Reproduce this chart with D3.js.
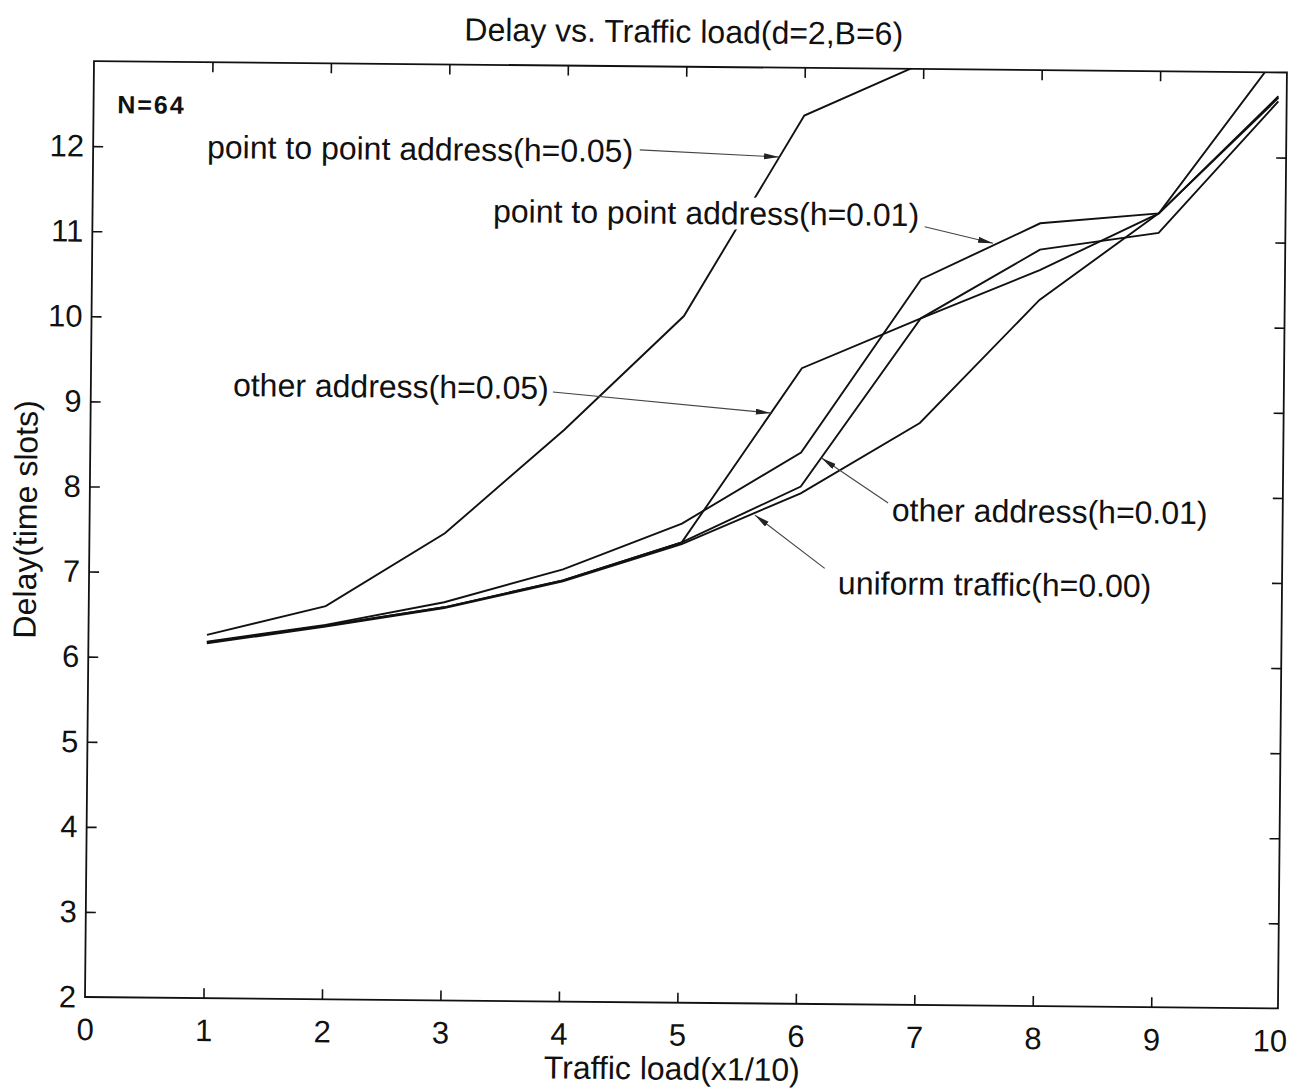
<!DOCTYPE html>
<html>
<head>
<meta charset="utf-8">
<script src="https://cdn.jsdelivr.net/npm/d3@7"></script>
<style>
  html, body { margin: 0; padding: 0; background: #fff; }
  svg { display: block; }
  text { font-family: "Liberation Sans", Arial, Helvetica, sans-serif; fill: #111; }
</style>
</head>
<body>
<svg id="chart" width="1300" height="1091"></svg>
<script>
// Traffic load (x1/10) at which each delay was measured
const loads = [1, 2, 3, 4, 5, 6, 7, 8, 9, 10];

// Delay in time slots for each traffic pattern
const ptp05   = [6.27, 6.62, 7.49, 8.72, 10.07, 12.44, 13.07];
const ptp01   = [6.19, 6.40, 6.68, 7.08, 7.63, 8.48, 10.53, 11.20, 11.33, 13.22];
const other05 = [6.18, 6.39, 6.62, 6.95, 7.41, 9.47, 10.07, 10.65, 11.33, 12.72];
const other01 = [6.18, 6.39, 6.62, 6.95, 7.41, 8.08, 10.07, 10.89, 11.10, 12.66];
const uniform = [6.17, 6.38, 6.61, 6.94, 7.39, 8.00, 8.84, 10.30, 11.33, 12.70];

const seriesList = [ptp05, ptp01, other05, other01, uniform];

// Axis ticks
const xTicks = [0, 1, 2, 3, 4, 5, 6, 7, 8, 9, 10];
const yTicks = [2, 3, 4, 5, 6, 7, 8, 9, 10, 11, 12];
const xMax = 10.07;
const yMin = 2, yMax = 13;

// Curve labels: text anchor and arrow (from -> to), in data units
const notes = [
  { text: "point to point address(h=0.05)", tx: 0.962, ty: 11.873, fx: 4.614, fy: 12.018, px: 5.79, py: 11.95 },
  { text: "point to point address(h=0.01)", tx: 3.381, ty: 11.153, fx: 7.025, fy: 11.147, px: 7.603, py: 10.96 },
  { text: "other address(h=0.05)",          tx: 1.200, ty: 9.079,  fx: 3.900, fy: 9.162,  px: 5.74,  py: 8.94 },
  { text: "other address(h=0.01)",          tx: 6.771, ty: 7.684,  fx: 6.739, fy: 7.895,  px: 6.173, py: 8.417 },
  { text: "uniform traffic(h=0.00)",        tx: 6.322, ty: 6.820,  fx: 6.209, fy: 7.121,  px: 5.615, py: 7.739 }
];

// ---- layout ----
const W = 1300, H = 1091;
const padLeft = 85, padTop = 61, pw = 1193, ph = 936;
const tilt = 0.55; // the printed page sits slightly skewed

const svg = d3.select("#chart");
svg.append("rect").attr("width", W).attr("height", H).attr("fill", "#fff");

const defs = svg.append("defs");
defs.append("clipPath").attr("id", "plotClip")
  .append("rect").attr("x", 0).attr("y", 0).attr("width", pw).attr("height", ph);
defs.append("marker")
  .attr("id", "arrowHead")
  .attr("markerUnits", "userSpaceOnUse")
  .attr("markerWidth", 16).attr("markerHeight", 8)
  .attr("refX", 15).attr("refY", 3)
  .attr("orient", "auto")
  .append("path").attr("d", "M0,0 L15,3 L0,6 Z").attr("fill", "#222");

const root = svg.append("g")
  .attr("transform", `rotate(${tilt}, ${padLeft}, ${padTop + ph})`);
const g = root.append("g").attr("transform", `translate(${padLeft},${padTop})`);

const x = d3.scaleLinear().domain([0, xMax]).range([0, pw]);
const y = d3.scaleLinear().domain([yMin, yMax]).range([ph, 0]);

const fontStack = '"Liberation Sans", Arial, Helvetica, sans-serif';

// ---- axes (ticks point inward on all four sides) ----
function styleAxis(sel, fs) {
  sel.select(".domain").remove();
  sel.attr("font-family", fontStack).attr("font-size", fs);
  sel.selectAll(".tick line").attr("stroke", "#111").attr("stroke-width", 1.6);
  sel.selectAll(".tick text").attr("fill", "#111");
}

const xBottom = g.append("g").attr("transform", `translate(0,${ph})`)
  .call(d3.axisBottom(x).tickValues(xTicks).tickFormat(d3.format("d"))
    .tickSizeInner(-10).tickSizeOuter(0).tickPadding(21));
styleAxis(xBottom, 31);

const xTop = g.append("g")
  .call(d3.axisTop(x).tickValues(xTicks).tickFormat("")
    .tickSizeInner(-10).tickSizeOuter(0));
styleAxis(xTop, 31);

const yLeft = g.append("g")
  .call(d3.axisLeft(y).tickValues(yTicks).tickFormat(d3.format("d"))
    .tickSizeInner(-10).tickSizeOuter(0).tickPadding(9));
styleAxis(yLeft, 31);

const yRight = g.append("g").attr("transform", `translate(${pw},0)`)
  .call(d3.axisRight(y).tickValues(yTicks).tickFormat("")
    .tickSizeInner(-10).tickSizeOuter(0));
styleAxis(yRight, 31);

// tick marks on the frame edges coincide with the border itself
[xBottom, xTop].forEach(a => a.selectAll(".tick").filter(d => d === 0 || d === 10)
  .select("line").remove());
[yLeft, yRight].forEach(a => a.selectAll(".tick").filter(d => d === yMin)
  .select("line").remove());

// frame
g.append("rect")
  .attr("x", 0).attr("y", 0).attr("width", pw).attr("height", ph)
  .attr("fill", "none").attr("stroke", "#111").attr("stroke-width", 1.8);

// ---- curves ----
const line = d3.line().x(d => x(d[0])).y(d => y(d[1]));
g.append("g").attr("clip-path", "url(#plotClip)")
  .selectAll("path.curve")
  .data(seriesList)
  .join("path")
  .attr("class", "curve")
  .attr("d", vals => line(vals.map((v, i) => [loads[i], v])))
  .attr("fill", "none")
  .attr("stroke", "#111")
  .attr("stroke-width", 1.9)
  .attr("stroke-linejoin", "miter");

// ---- curve labels with arrows (labels sit on an opaque box over the curves) ----
const noteG = g.append("g");
noteG.selectAll("line.arrow")
  .data(notes)
  .join("line")
  .attr("class", "arrow")
  .attr("x1", d => x(d.fx)).attr("y1", d => y(d.fy))
  .attr("x2", d => x(d.px)).attr("y2", d => y(d.py))
  .attr("stroke", "#444").attr("stroke-width", 1.1)
  .attr("marker-end", "url(#arrowHead)");

const noteBoxes = noteG.selectAll("rect.notebg").data(notes).join("rect")
  .attr("class", "notebg").attr("fill", "#fff");

const noteTexts = noteG.selectAll("text.note")
  .data(notes)
  .join("text")
  .attr("class", "note")
  .attr("x", d => x(d.tx)).attr("y", d => y(d.ty))
  .attr("font-size", 32)
  .text(d => d.text);

noteTexts.each(function (d, i) {
  const b = this.getBBox();
  d3.select(noteBoxes.nodes()[i])
    .attr("x", b.x).attr("y", b.y + 2)
    .attr("width", b.width).attr("height", b.height - 4);
});

// N=64 tag
g.append("text")
  .attr("x", x(0.2)).attr("y", y(12.39))
  .attr("font-family", '"Liberation Serif", "DejaVu Serif", serif')
  .attr("font-weight", "bold")
  .attr("font-size", 25)
  .attr("letter-spacing", 2)
  .text("N=64");

// ---- titles ----
g.append("text")
  .attr("x", pw / 2 - 7).attr("y", -24)
  .attr("text-anchor", "middle")
  .attr("font-size", 32)
  .text("Delay vs. Traffic load(d=2,B=6)");

g.append("text")
  .attr("x", pw / 2 - 9).attr("y", ph + 77)
  .attr("text-anchor", "middle")
  .attr("font-size", 32)
  .text("Traffic load(x1/10)");

g.append("text")
  .attr("transform", `translate(-53,${ph / 2 - 9}) rotate(-90)`)
  .attr("text-anchor", "middle")
  .attr("font-size", 32)
  .text("Delay(time slots)");
</script>
</body>
</html>
